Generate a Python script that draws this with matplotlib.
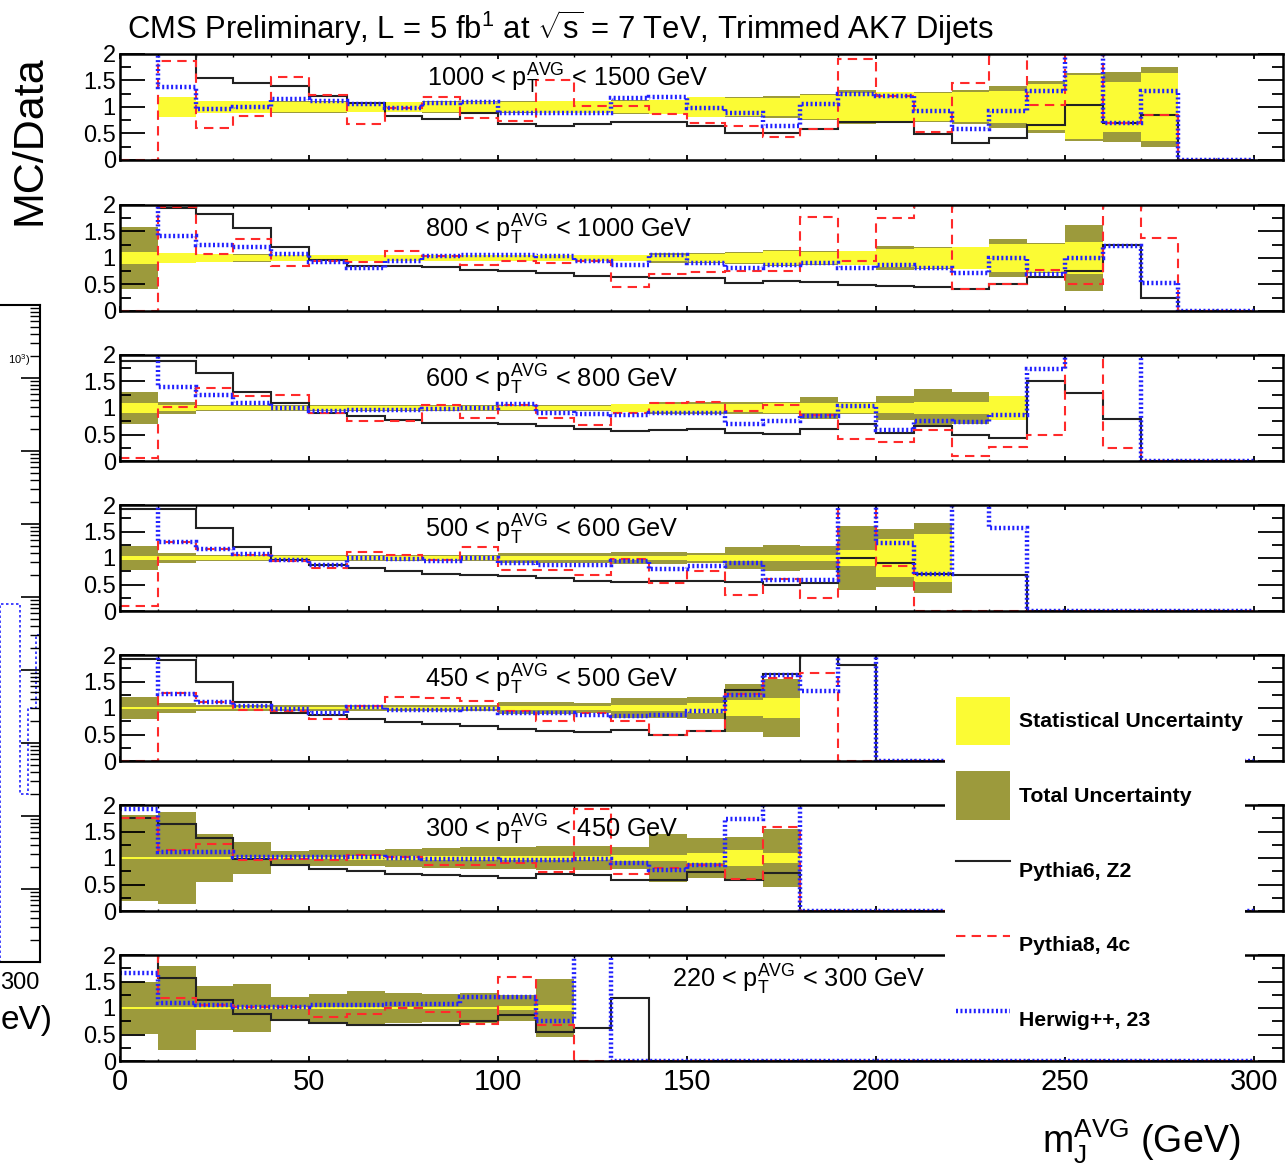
import numpy as np
import matplotlib
matplotlib.use("Agg")
import matplotlib.pyplot as plt
from matplotlib.lines import Line2D
from matplotlib.patches import Patch, Rectangle

plt.rcParams["font.family"] = ["Liberation Sans", "DejaVu Sans"]
plt.rcParams["mathtext.fontset"] = "custom"
plt.rcParams["mathtext.rm"] = "Liberation Sans"
plt.rcParams["mathtext.it"] = "Liberation Sans:italic"
plt.rcParams["mathtext.bf"] = "Liberation Sans:bold"

# ---------------------------------------------------------------------------
# MC/Data ratios in 10 GeV bins of jet mass, 0-300 GeV (30 bins per slice).
# Values above 2 are off-scale and get clipped by the frame.
# ---------------------------------------------------------------------------
edges = np.arange(0, 310, 10)

pt_labels = [
    r"1000 < p$_{\mathrm{T}}^{\mathrm{AVG}}$ < 1500 GeV",
    r"800 < p$_{\mathrm{T}}^{\mathrm{AVG}}$ < 1000 GeV",
    r"600 < p$_{\mathrm{T}}^{\mathrm{AVG}}$ < 800 GeV",
    r"500 < p$_{\mathrm{T}}^{\mathrm{AVG}}$ < 600 GeV",
    r"450 < p$_{\mathrm{T}}^{\mathrm{AVG}}$ < 500 GeV",
    r"300 < p$_{\mathrm{T}}^{\mathrm{AVG}}$ < 450 GeV",
    r"220 < p$_{\mathrm{T}}^{\mathrm{AVG}}$ < 300 GeV",
]

# 1000 < pT < 1500
pythia6_1000 = [2.5, 2.05, 1.55, 1.46, 1.39, 1.2, 1.08, 0.83, 0.77, 0.89, 0.675, 0.64, 0.675, 0.72, 0.72,
                0.64, 0.5, 0.5, 0.58, 0.72, 0.72, 0.49, 0.33, 0.41, 0.66, 1.03, 0.7, 0.85, 0, 0]
pythia8_1000 = [0, 1.86, 0.6, 0.83, 1.57, 1.22, 0.675, 0.99, 1.19, 0.79, 0.73, 1.5, 1.02, 1.02, 0.86,
                0.69, 0.64, 0.44, 0.58, 1.91, 1.2, 0.52, 1.46, 2.5, 1.03, 2.5, 0.7, 0.85, 0, 0]
herwig_1000 = [2.5, 1.375, 0.96, 1.0, 1.16, 1.11, 1.05, 0.99, 1.08, 1.1, 0.89, 0.89, 0.89, 1.17, 1.19,
               0.99, 0.89, 0.64, 1.06, 1.24, 1.2, 0.92, 0.58, 0.92, 1.3, 2.5, 0.7, 1.3, 0, 0]
stat_1000 = [0, 0.19, 0.11, 0.11, 0.1, 0.1, 0.09, 0.09, 0.1, 0.1, 0.1, 0.11, 0.11, 0.12, 0.13,
             0.18, 0.17, 0.17, 0.22, 0.26, 0.28, 0.27, 0.28, 0.31, 0.43, 0.6, 0.47, 0.65, 0, 0]
total_1000 = [0, 0.19, 0.12, 0.12, 0.11, 0.11, 0.1, 0.1, 0.11, 0.11, 0.11, 0.12, 0.12, 0.13, 0.14,
              0.18, 0.18, 0.2, 0.25, 0.33, 0.29, 0.28, 0.33, 0.39, 0.49, 0.64, 0.66, 0.75, 0, 0]

# 800 < pT < 1000
pythia6_800 = [2.5, 1.94, 1.83, 1.56, 1.2, 0.97, 0.84, 0.84, 0.83, 0.78, 0.76, 0.71, 0.66, 0.64, 0.62,
               0.62, 0.53, 0.56, 0.55, 0.49, 0.47, 0.45, 0.41, 0.51, 0.64, 0.76, 1.25, 0.24, 0, 0]
pythia8_800 = [0, 1.97, 1.07, 1.36, 0.84, 0.94, 0.92, 1.14, 1.03, 0.86, 0.95, 0.91, 0.94, 0.45, 0.69,
               0.74, 0.75, 0.75, 1.78, 0.95, 1.75, 2.5, 0.41, 0.51, 0.78, 0.51, 2.5, 1.37, 0, 0]
herwig_800 = [2.5, 1.41, 1.24, 1.2, 1.07, 0.92, 0.82, 0.95, 1.03, 1.06, 1.05, 1.03, 0.94, 0.86, 1.05,
              0.91, 0.82, 0.86, 0.91, 0.82, 0.87, 0.82, 0.72, 1.0, 0.7, 1.0, 1.22, 0.53, 0, 0]
stat_800 = [0.11, 0.1, 0.07, 0.06, 0.05, 0.05, 0.05, 0.05, 0.05, 0.05, 0.05, 0.05, 0.05, 0.05, 0.06,
            0.08, 0.1, 0.13, 0.12, 0.13, 0.17, 0.19, 0.2, 0.27, 0.26, 0.3, 0, 0, 0, 0]
total_800 = [0.58, 0.1, 0.08, 0.07, 0.06, 0.06, 0.06, 0.06, 0.06, 0.06, 0.06, 0.06, 0.06, 0.06, 0.1,
             0.09, 0.11, 0.15, 0.13, 0.14, 0.23, 0.2, 0.21, 0.35, 0.28, 0.62, 0, 0, 0, 0]

# 600 < pT < 800
pythia6_600 = [1.89, 1.89, 1.66, 1.3, 1.09, 0.91, 0.84, 0.78, 0.72, 0.72, 0.7, 0.66, 0.61, 0.575, 0.59,
               0.61, 0.53, 0.51, 0.61, 0.7, 0.53, 0.66, 0.5, 0.44, 1.51, 1.28, 0.8, 0, 0, 0]
pythia8_600 = [0.06, 1.01, 1.37, 1.22, 1.25, 0.91, 0.75, 0.76, 1.05, 0.82, 1.05, 0.82, 0.67, 0.9, 1.09,
               1.11, 0.94, 1.06, 0.86, 0.42, 0.36, 0.59, 0.09, 0.26, 0.49, 2.5, 0.25, 0, 0, 0]
herwig_600 = [2.5, 1.39, 1.24, 1.09, 1.0, 0.95, 0.97, 0.97, 0.99, 1.0, 1.07, 0.91, 0.89, 0.86, 0.91,
              0.91, 0.69, 0.76, 0.84, 1.03, 0.59, 0.76, 0.74, 0.875, 1.74, 2.5, 2.5, 0, 0, 0]
stat_600 = [0.1, 0.05, 0.04, 0.04, 0.04, 0.04, 0.04, 0.04, 0.04, 0.04, 0.04, 0.04, 0.04, 0.07, 0.08,
            0.07, 0.08, 0.09, 0.1, 0.1, 0.1, 0.11, 0.11, 0.22, 0, 0, 0, 0, 0, 0]
total_600 = [0.31, 0.11, 0.05, 0.05, 0.05, 0.05, 0.05, 0.05, 0.05, 0.05, 0.05, 0.05, 0.05, 0.08, 0.11,
             0.12, 0.12, 0.12, 0.2, 0.12, 0.22, 0.35, 0.31, 0.23, 0, 0, 0, 0, 0, 0]

# 500 < pT < 600
pythia6_500 = [1.92, 1.92, 1.56, 1.2, 0.97, 0.875, 0.81, 0.75, 0.7, 0.675, 0.66, 0.625, 0.575, 0.55, 0.575,
               0.575, 0.55, 0.5, 0.53, 1.0, 0.91, 0.7, 0.675, 0.675, 0, 0, 0, 0, 0, 0]
pythia8_500 = [0.09, 1.31, 1.17, 1.05, 0.95, 0.81, 1.11, 1.06, 0.97, 1.2, 0.78, 0.78, 0.675, 0.99, 0.53,
               0.76, 0.3, 0.6, 0.25, 2.5, 0.84, 0, 0, 0, 0, 0, 0, 0, 0, 0]
herwig_500 = [2.5, 1.31, 1.17, 1.07, 0.97, 0.875, 1.0, 0.99, 0.95, 1.0, 0.91, 0.875, 0.875, 0.94, 0.8,
              0.84, 0.91, 0.59, 0.59, 2.5, 1.28, 0.69, 2.5, 1.56, 0, 0, 0, 0, 0, 0]
stat_500 = [0.03, 0.03, 0.03, 0.03, 0.03, 0.03, 0.03, 0.03, 0.03, 0.03, 0.03, 0.03, 0.03, 0.03, 0.03,
            0.05, 0.05, 0.05, 0.06, 0.15, 0.36, 0.45, 0, 0, 0, 0, 0, 0, 0, 0]
total_500 = [0.22, 0.09, 0.05, 0.05, 0.05, 0.05, 0.05, 0.05, 0.05, 0.05, 0.09, 0.09, 0.09, 0.12, 0.12,
             0.1, 0.21, 0.24, 0.22, 0.6, 0.55, 0.66, 0, 0, 0, 0, 0, 0, 0, 0]

# 450 < pT < 500
pythia6_450 = [1.92, 1.9, 1.49, 1.11, 0.91, 0.875, 0.8, 0.74, 0.69, 0.66, 0.61, 0.56, 0.55, 0.59, 0.5,
               0.575, 1.34, 1.64, 2.5, 1.82, 0, 0, 0, 0, 0, 0, 0, 0, 0, 0]
pythia8_450 = [0, 1.28, 1.11, 0.97, 0.94, 0.8, 1.03, 1.2, 1.19, 1.125, 0.94, 0.76, 0.91, 0.76, 0.49,
               0.575, 1.26, 1.575, 1.66, 0, 0, 0, 0, 0, 0, 0, 0, 0, 0, 0]
herwig_450 = [2.5, 1.26, 1.11, 1.03, 0.99, 0.91, 1.01, 0.97, 0.97, 0.99, 0.91, 0.91, 0.875, 0.84, 0.875,
              0.94, 1.24, 1.625, 1.325, 2.5, 0, 0, 0, 0, 0, 0, 0, 0, 0, 0]
stat_450 = [0.02, 0.02, 0.02, 0.02, 0.02, 0.02, 0.02, 0.02, 0.02, 0.02, 0.03, 0.03, 0.03, 0.05, 0.05,
            0.1, 0.16, 0.19, 0, 0, 0, 0, 0, 0, 0, 0, 0, 0, 0, 0]
total_450 = [0.21, 0.09, 0.05, 0.05, 0.05, 0.05, 0.05, 0.05, 0.05, 0.05, 0.12, 0.12, 0.09, 0.19, 0.19,
             0.2, 0.46, 0.55, 0, 0, 0, 0, 0, 0, 0, 0, 0, 0, 0, 0]

# 300 < pT < 450
pythia6_300 = [1.76, 1.64, 1.375, 0.99, 0.86, 0.8, 0.75, 0.7, 0.675, 0.66, 0.625, 0.69, 0.675, 0.59, 0.59,
               0.74, 0.59, 0.72, 0, 0, 0, 0, 0, 0, 0, 0, 0, 0, 0, 0]
pythia8_300 = [1.76, 1.16, 1.26, 0.97, 0.99, 0.97, 1.06, 1.01, 0.875, 0.86, 0.91, 0.74, 1.93, 0.7, 0.81,
               0.875, 0.61, 1.59, 0, 0, 0, 0, 0, 0, 0, 0, 0, 0, 0, 0]
herwig_300 = [1.92, 1.11, 1.11, 1.01, 1.01, 1.01, 1.01, 1.0, 0.99, 0.99, 0.97, 0.97, 0.99, 0.91, 0.78,
              0.875, 1.74, 2.5, 0, 0, 0, 0, 0, 0, 0, 0, 0, 0, 0, 0]
stat_300 = [0.02, 0.02, 0.02, 0.02, 0.02, 0.02, 0.03, 0.03, 0.03, 0.03, 0.03, 0.04, 0.04, 0.06, 0.05,
            0.1, 0.16, 0.09, 0, 0, 0, 0, 0, 0, 0, 0, 0, 0, 0, 0]
total_300 = [0.82, 0.86, 0.45, 0.31, 0.13, 0.15, 0.16, 0.17, 0.19, 0.2, 0.21, 0.23, 0.22, 0.2, 0.45,
             0.37, 0.4, 0.55, 0, 0, 0, 0, 0, 0, 0, 0, 0, 0, 0, 0]

# 220 < pT < 300
pythia6_220 = [2.5, 1.56, 1.15, 0.89, 0.78, 0.72, 0.68, 0.67, 0.67, 0.76, 0.86, 0.55, 0.62, 1.19, 0,
               0, 0, 0, 0, 0, 0, 0, 0, 0, 0, 0, 0, 0, 0, 0]
pythia8_220 = [2.5, 1.18, 1.06, 1.02, 1.02, 0.83, 0.89, 1.0, 0.92, 0.7, 1.59, 0.67, 0, 0, 0,
               0, 0, 0, 0, 0, 0, 0, 0, 0, 0, 0, 0, 0, 0, 0]
herwig_220 = [1.66, 1.1, 1.06, 1.02, 1.02, 1.05, 1.05, 1.08, 1.08, 1.21, 1.21, 0.76, 2.5, 0, 0,
              0, 0, 0, 0, 0, 0, 0, 0, 0, 0, 0, 0, 0, 0, 0]
stat_220 = [0.02, 0.02, 0.02, 0.02, 0.02, 0.02, 0.02, 0.02, 0.02, 0.02, 0.03, 0.06, 0, 0, 0,
            0, 0, 0, 0, 0, 0, 0, 0, 0, 0, 0, 0, 0, 0, 0]
total_220 = [0.49, 0.8, 0.42, 0.46, 0.2, 0.27, 0.32, 0.29, 0.26, 0.28, 0.25, 0.55, 0, 0, 0,
             0, 0, 0, 0, 0, 0, 0, 0, 0, 0, 0, 0, 0, 0, 0]

slices = [
    (pythia6_1000, pythia8_1000, herwig_1000, stat_1000, total_1000),
    (pythia6_800, pythia8_800, herwig_800, stat_800, total_800),
    (pythia6_600, pythia8_600, herwig_600, stat_600, total_600),
    (pythia6_500, pythia8_500, herwig_500, stat_500, total_500),
    (pythia6_450, pythia8_450, herwig_450, stat_450, total_450),
    (pythia6_300, pythia8_300, herwig_300, stat_300, total_300),
    (pythia6_220, pythia8_220, herwig_220, stat_220, total_220),
]

legend_labels = ["Statistical Uncertainty", "Total Uncertainty",
                 "Pythia6, Z2", "Pythia8, 4c", "Herwig++, 23"]

YELLOW = "#fbfb34"
OLIVE = "#9c9a3c"
BLACK = "#222222"
RED = "#ff2a2a"
BLUE = "#2222ff"

W, H = 1286, 1167
fig = plt.figure(figsize=(W / 100, H / 100), dpi=100)


def px_box(x0, y0, x1, y1):
    # pixel box (top-left origin) -> figure fraction rect
    return [x0 / W, 1 - y1 / H, (x1 - x0) / W, (y1 - y0) / H]


centers = 0.5 * (edges[:-1] + edges[1:])
panel_tops = [54, 205, 355, 505, 655, 805, 955]
label_x = [427, 425, 425, 425, 425, 425, 672]

for i, (p6, p8, hw, stat, tot) in enumerate(slices):
    top = panel_tops[i]
    ax = fig.add_axes(px_box(120, top, 1283, top + 106))

    stat = np.array(stat)
    tot = np.array(tot)
    ax.bar(centers, 2 * tot, bottom=1 - tot, width=10, color=OLIVE, lw=0, zorder=1)
    ax.bar(centers, 2 * stat, bottom=1 - stat, width=10, color=YELLOW, lw=0, zorder=2)

    ax.stairs(p6, edges, baseline=None, color=BLACK, lw=1.5, zorder=3)
    ax.stairs(p8, edges, baseline=None, color=RED, lw=1.5, ls=(0, (4.5, 3)), zorder=4)
    ax.stairs(hw, edges, baseline=None, color=BLUE, lw=3.2, ls=(0, (0.45, 0.55)), zorder=5)

    ax.set_xlim(0, 307.7)
    ax.set_ylim(0, 2)
    ax.set_yticks([0, 0.5, 1, 1.5, 2])
    ax.set_yticklabels(["0", "0.5", "1", "1.5", "2"])
    ax.set_yticks([0.25, 0.75, 1.25, 1.75], minor=True)
    ax.set_xticks(np.arange(0, 301, 50))
    ax.set_xticks(np.arange(0, 301, 10), minor=True)
    ax.tick_params(axis="y", which="major", direction="in", length=18, width=1.3,
                   left=True, right=True, labelsize=17, pad=3)
    ax.tick_params(axis="y", which="minor", direction="in", length=8, width=1.3,
                   left=True, right=True)
    ax.tick_params(axis="x", which="major", direction="in", length=3.5, width=1.3,
                   top=True, bottom=True, labelsize=21, pad=5)
    ax.tick_params(axis="x", which="minor", direction="in", length=1.8, width=1.0,
                   top=True, bottom=True)
    if i < len(slices) - 1:
        ax.tick_params(axis="x", labelbottom=False)
    for sp in ax.spines.values():
        sp.set_linewidth(1.8)
        sp.set_zorder(6)

    fig.text(label_x[i] / W, 1 - (top + 33) / H, pt_labels[i], fontsize=18.2,
             ha="left", va="baseline")

# legend sits on a white block over the lower right of the stack
fig.patches.append(Rectangle((945 / W, 1 - 1057 / H), 300 / W, 395 / H,
                             transform=fig.transFigure, facecolor="white",
                             edgecolor="none", zorder=3))
handles = [
    Patch(facecolor=YELLOW, edgecolor="none"),
    Patch(facecolor=OLIVE, edgecolor="none"),
    Line2D([], [], color=BLACK, lw=1.5),
    Line2D([], [], color=RED, lw=1.5, ls=(0, (4.5, 3))),
    Line2D([], [], color=BLUE, lw=3.2, ls=(0, (0.45, 0.55))),
]
leg = fig.legend(handles, legend_labels, loc="upper left",
                 bbox_to_anchor=(945 / W, 1 - 686 / H), frameon=False,
                 prop={"weight": "bold", "size": 15.3}, borderpad=0,
                 handlelength=2.56, handleheight=3.13, handletextpad=0.42,
                 labelspacing=1.24)
leg.set_zorder(5)

fig.text(127 / W, 1 - 28 / H,
         r"CMS Preliminary, L = 5 fb$^{1}$ at $\sqrt{\mathrm{s}}$ = 7 TeV, Trimmed AK7 Dijets",
         fontsize=22.3, ha="left", va="center")
fig.text(30 / W, 1 - 140 / H, "MC/Data", fontsize=31, rotation=90,
         ha="center", va="center")
fig.text(1240 / W, 1 - 1142 / H, r"m$_{\mathrm{J}}^{\mathrm{AVG}}$ (GeV)", fontsize=27,
         ha="right", va="center")

# right edge of the neighbouring mass-spectrum plot
side_ax = fig.add_axes(px_box(-200, 305, 40, 962))
side_ax.set_yscale("log")
side_ax.set_ylim(1e-6, 1e3)
side_ax.set_xlim(0, 300)
side_ax.stairs([1e-6, 8e-2, 8e-2, 2e-4, 3e-3, 3e-2], [240, 250, 260, 275, 285, 295, 300],
               baseline=None, color=BLUE, lw=1.2, ls=(0, (1.5, 1.5)))
side_ax.tick_params(axis="y", which="both", direction="in", right=True, left=False,
                    labelleft=False, labelright=False)
side_ax.tick_params(axis="y", which="major", length=14, width=1.2)
side_ax.tick_params(axis="y", which="minor", length=7, width=1.0)
side_ax.yaxis.set_minor_locator(matplotlib.ticker.LogLocator(base=10, subs=np.arange(2, 10), numticks=30))
side_ax.set_xticks([])
side_ax.spines["left"].set_visible(False)
for sp in ("top", "right", "bottom"):
    side_ax.spines[sp].set_linewidth(1.5)
fig.text(20 / W, 1 - 983 / H, "300", fontsize=17, ha="center", va="center")
fig.text(1 / W, 1 - 1020 / H, "eV)", fontsize=24, ha="left", va="center")
fig.text(30 / W, 1 - 360 / H, r"$10^{3}$)", fontsize=8, ha="right", va="center")

fig.savefig("out.png", dpi=100)
